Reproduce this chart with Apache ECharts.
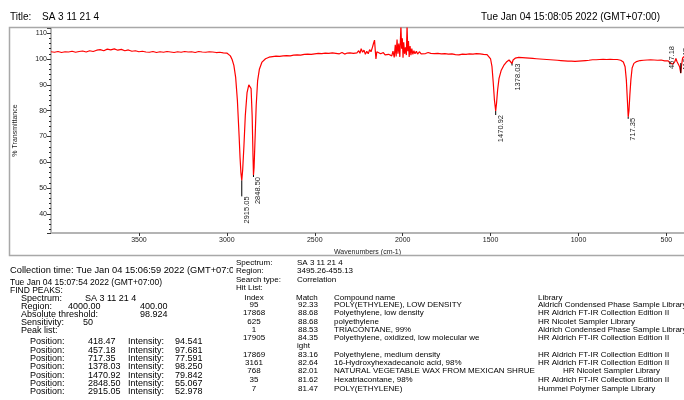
<!DOCTYPE html>
<html>
<head>
<meta charset="utf-8">
<script src="https://cdn.jsdelivr.net/npm/echarts@6/dist/echarts.min.js"></script>
<style>
  html, body { margin: 0; padding: 0; background: #fff; }
  #chart { width: 684px; height: 400px; }
</style>
</head>
<body>
<div id="chart"></div>
<script>
// spectrum (cm-1 / %T)
var wavenumbers = [
  4000, 3980, 3960, 3940, 3920, 3900, 3880, 3860, 3840, 3820, 3800, 3780, 3760, 3740, 3720, 3700,
  3680, 3660, 3640, 3620, 3600, 3580, 3560, 3540, 3520, 3500, 3480, 3460, 3440, 3420, 3400, 3380,
  3360, 3340, 3320, 3300, 3280, 3260, 3240, 3220, 3200, 3180, 3160, 3140, 3120, 3100, 3080, 3060,
  3040, 3020, 3000, 2990, 2980, 2970, 2960, 2950, 2940, 2930, 2925, 2920, 2915.05, 2910, 2903, 2895,
  2885, 2875, 2868, 2862, 2856, 2851, 2848.5, 2845, 2840, 2833, 2825, 2815, 2800, 2780, 2760, 2740,
  2720, 2700, 2680, 2660, 2640, 2620, 2600, 2580, 2560, 2540, 2520, 2500, 2480, 2460, 2440, 2420,
  2400, 2380, 2360, 2345, 2330, 2315, 2300, 2280, 2260, 2250, 2243, 2236, 2228, 2220, 2212, 2204,
  2196, 2188, 2180, 2172, 2166, 2160, 2156, 2152, 2147, 2140, 2125, 2110, 2100, 2090, 2080, 2070,
  2062, 2055, 2048, 2042, 2037, 2032, 2027, 2022, 2016, 2010, 2006, 2002, 1998, 1994, 1989, 1984,
  1979, 1975, 1971, 1967, 1963, 1958, 1953, 1948, 1942, 1936, 1930, 1922, 1915, 1905, 1895, 1885,
  1870, 1855, 1840, 1820, 1800, 1780, 1760, 1740, 1720, 1700, 1680, 1660, 1640, 1620, 1600, 1580,
  1560, 1540, 1520, 1510, 1500, 1492, 1485, 1478, 1470.92, 1466, 1460, 1452, 1440, 1425, 1410, 1395,
  1385, 1378.03, 1372, 1360, 1340, 1320, 1300, 1280, 1260, 1240, 1220, 1200, 1180, 1160, 1140, 1120,
  1100, 1080, 1060, 1040, 1020, 1000, 980, 960, 940, 920, 900, 880, 860, 840, 820, 800,
  780, 760, 745, 735, 728, 722, 717.35, 713, 708, 702, 695, 685, 670, 650, 630, 610,
  590, 570, 550, 530, 510, 500, 490, 480, 470, 463, 457.18, 452, 446, 440, 432, 425,
  418.47, 414, 408, 400
];
var transmittance = [
  102.8, 102.6, 102.9, 102.5, 102.8, 102.7, 103.0, 102.6, 102.9, 103.1, 102.7, 103.2, 102.9, 103.4, 103.6, 103.2,
  103.8, 103.5, 103.9, 103.4, 103.7, 103.2, 103.5, 103.0, 103.2, 102.8, 103.0, 102.7, 102.6, 102.9, 102.5, 102.8,
  102.6, 102.9, 102.7, 102.5, 102.8, 102.6, 102.9, 102.7, 102.8, 102.5, 102.9, 102.7, 102.6, 102.8, 102.7, 102.5,
  102.6, 102.4, 102.3, 102.0, 101.2, 99.8, 97.5, 93.0, 84.0, 70.0, 62.0, 56.0, 52.978, 57.0, 66.0, 78.0,
  87.0, 90.0, 90.4, 88.5, 78.0, 62.0, 55.067, 58.0, 68.0, 82.0, 91.5, 96.0, 98.8, 100.1, 100.7, 100.9,
  101.1, 101.0, 101.2, 101.3, 101.2, 101.5, 101.6, 101.5, 101.8, 101.9, 101.8, 102.0, 102.2, 102.1, 102.3, 102.2,
  102.4, 102.2, 102.0, 102.5, 101.9, 102.3, 102.4, 102.2, 102.4, 103.2, 102.2, 104.0, 102.6, 103.4, 101.8, 103.0,
  102.0, 103.6, 102.8, 104.5, 106.0, 107.3, 103.5, 100.0, 102.8, 102.4, 102.0, 102.5, 101.6, 102.3, 101.8, 102.2,
  101.2, 103.0, 100.6, 105.5, 101.0, 107.5, 102.0, 106.0, 100.8, 113.0, 104.0, 108.0, 100.5, 106.5, 102.0, 104.5,
  101.5, 113.0, 103.0, 107.0, 100.8, 105.0, 101.5, 104.0, 101.8, 103.2, 102.0, 103.0, 101.9, 102.8, 102.0, 102.6,
  102.1, 102.5, 102.2, 102.1, 102.2, 102.0, 102.1, 101.9, 102.0, 101.7, 101.6, 101.9, 101.8, 102.0, 101.9, 102.1,
  102.0, 101.8, 101.7, 101.2, 100.0, 97.0, 91.0, 84.0, 79.842, 83.0, 88.0, 92.5, 95.5, 97.5, 98.8, 99.6,
  99.4, 98.25, 99.6, 100.3, 100.6, 100.5, 100.4, 100.3, 100.2, 100.1, 100.0, 99.9, 99.8, 99.7, 99.6, 99.5,
  99.4, 99.3, 99.2, 99.2, 99.1, 99.2, 99.3, 99.4, 99.5, 99.7, 99.7, 99.8, 99.9, 99.8, 99.9, 99.8,
  99.8, 99.5, 98.8, 97.0, 92.0, 84.0, 77.591, 80.0, 86.0, 92.0, 96.5, 98.3, 99.0, 99.4, 99.5, 99.6,
  99.7, 99.6, 99.5, 99.6, 99.3, 99.0, 99.3, 98.5, 98.9, 98.0, 97.681, 99.0, 100.2, 99.0, 99.6, 97.0,
  94.541, 97.5, 100.3, 101.0
];

// peak pick results
var peakPositions = [418.47, 457.18, 717.35, 1378.03, 1470.92, 2848.50, 2915.05];
var peakIntensities = [94.541, 97.681, 77.591, 98.250, 79.842, 55.067, 52.978];

// hit list
var hitIndex = ['95', '17868', '625', '1', '17905', '17869', '3161', '768', '35', '7'];
var hitMatch = ['92.33', '88.68', '88.68', '88.53', '84.35', '83.16', '82.64', '82.01', '81.62', '81.47'];
var hitCompound = [
  'POLY(ETHYLENE), LOW DENSITY',
  'Polyethylene, low density',
  'polyethylene',
  'TRIACONTANE, 99%',
  'Polyethylene, oxidized, low molecular we',
  'Polyethylene, medium density',
  '16-Hydroxyhexadecanoic acid, 98%',
  'NATURAL VEGETABLE WAX FROM MEXICAN SHRUE',
  'Hexatriacontane, 98%',
  'POLY(ETHYLENE)'
];
var hitLibrary = [
  'Aldrich Condensed Phase Sample Library',
  'HR Aldrich FT-IR Collection Edition II',
  'HR Nicolet Sampler Library',
  'Aldrich Condensed Phase Sample Library',
  'HR Aldrich FT-IR Collection Edition II',
  'HR Aldrich FT-IR Collection Edition II',
  'HR Aldrich FT-IR Collection Edition II',
  'HR Nicolet Sampler Library',
  'HR Aldrich FT-IR Collection Edition II',
  'Hummel Polymer Sample Library'
];

var FONT = '"Liberation Sans", Arial, sans-serif';

// where each peak label sits relative to its peak (px)
var peakLabelStyle = [
  { dx: 5, dy: -25, line: -10 },
  { dx: -2, dy: -19, line: 0 },
  { dx: 5, dy: 1, line: 2 },
  { dx: 6, dy: 0, line: 2 },
  { dx: 5, dy: 4, line: 4 },
  { dx: 4.5, dy: 2, line: 2 },
  { dx: 5, dy: 16, line: 16 }
];

var chart = echarts.init(document.getElementById('chart'), null, { renderer: 'canvas' });

var spectrum = wavenumbers.map(function (w, i) { return [w, transmittance[i]]; });
var peaks = peakPositions.map(function (p, i) { return [p, peakIntensities[i], i]; });

function txt(x, y, s, size, extra) {
  var o = {
    type: 'text', x: x, y: y, z: 10,
    style: { text: s, fontSize: size || 9, fontFamily: FONT, fill: '#000', verticalAlign: 'middle' }
  };
  if (extra) for (var k in extra) o.style[k] = extra[k];
  return o;
}

var g = [];
// frame
g.push({ type: 'rect', z: 1, shape: { x: 9.5, y: 27.5, width: 700, height: 228 },
  style: { fill: 'none', stroke: '#a8a8a8', lineWidth: 1.5 } });
g.push(txt(10, 17, 'Title:', 10));
g.push(txt(42, 17, 'SA 3 11 21 4', 10));
g.push(txt(660, 17, 'Tue Jan 04 15:08:05 2022 (GMT+07:00)', 10, { align: 'right' }));

// left block
g.push(txt(10, 270, 'Collection time: Tue Jan 04 15:06:59 2022 (GMT+07:00)', 9.3));
g.push({ type: 'rect', z: 11, shape: { x: 233, y: 258, width: 460, height: 142 }, style: { fill: '#fff' } });
g.push(txt(10, 283, 'Tue Jan 04 15:07:54 2022 (GMT+07:00)', 8.5));
g.push(txt(10, 291, 'FIND PEAKS:', 8.5));
g.push(txt(21, 299, 'Spectrum:'));
g.push(txt(85, 299, 'SA 3 11 21 4'));
g.push(txt(21, 307, 'Region:'));
g.push(txt(68, 307, '4000.00'));
g.push(txt(140, 307, '400.00'));
g.push(txt(21, 315, 'Absolute threshold:'));
g.push(txt(140, 315, '98.924'));
g.push(txt(21, 323, 'Sensitivity:'));
g.push(txt(83, 323, '50'));
g.push(txt(21, 331, 'Peak list:'));
peakPositions.forEach(function (p, i) {
  var y = 342 + i * 8.3;
  g.push(txt(30, y, 'Position:'));
  g.push(txt(88, y, p.toFixed(2)));
  g.push(txt(128, y, 'Intensity:'));
  g.push(txt(175, y, peakIntensities[i].toFixed(3)));
});

// right block
function rtxt(x, y, s, extra) { var o = txt(x, y, s, 8, extra); o.z = 12; return o; }
g.push(rtxt(236, 263, 'Spectrum:'));
g.push(rtxt(297, 263, 'SA 3 11 21 4'));
g.push(rtxt(236, 271, 'Region:'));
g.push(rtxt(297, 271, '3495.26-455.13'));
g.push(rtxt(236, 280, 'Search type:'));
g.push(rtxt(297, 280, 'Correlation'));
g.push(rtxt(236, 288, 'Hit List:'));
g.push(rtxt(254, 298, 'Index', { align: 'center' }));
g.push(rtxt(296, 298, 'Match'));
g.push(rtxt(334, 298, 'Compound name'));
g.push(rtxt(538, 298, 'Library'));
var rowY = [305, 313, 322, 330, 338, 355, 363, 371, 380, 389];
hitIndex.forEach(function (h, i) {
  var y = rowY[i];
  g.push(rtxt(254, y, h, { align: 'center' }));
  g.push(rtxt(298, y, hitMatch[i]));
  g.push(rtxt(334, y, hitCompound[i]));
  g.push(rtxt(i === 7 ? 563 : 538, y, hitLibrary[i]));
});
g.push(rtxt(297, 346, 'ight'));

chart.setOption({
  animation: false,
  grid: { left: 51, right: 0, top: 28, bottom: 167, containLabel: false },
  xAxis: {
    type: 'value', inverse: true, min: 400, max: 4000, splitNumber: 7,
    name: 'Wavenumbers (cm-1)', nameLocation: 'middle', nameGap: 16,
    nameTextStyle: { fontSize: 7, fontFamily: FONT, color: '#222' },
    axisLine: { lineStyle: { color: '#b4b4b4', width: 2 } },
    axisTick: { show: true, length: 3, lineStyle: { color: '#333' } },
    axisLabel: { fontSize: 7, fontFamily: FONT, color: '#222', margin: 4, showMinLabel: false, showMaxLabel: false,
      formatter: function (v) { return String(v); } },
    splitLine: { show: false }
  },
  yAxis: {
    type: 'value', min: 32.6, max: 112, splitNumber: 8,
    name: '% Transmittance', nameLocation: 'middle', nameGap: 32, nameRotate: 90,
    nameTextStyle: { fontSize: 7, fontFamily: FONT, color: '#222' },
    axisLine: { show: true, lineStyle: { color: '#a0a0a0', width: 1.5 } },
    axisTick: { show: true, length: 4, lineStyle: { color: '#333' } },
    minorTick: { show: true, splitNumber: 5, length: 2, lineStyle: { color: '#222' } },
    axisLabel: { fontSize: 7, fontFamily: FONT, color: '#222', margin: 4, showMinLabel: false, showMaxLabel: false },
    splitLine: { show: false }
  },
  series: [
    {
      type: 'line', data: spectrum, showSymbol: false, symbol: 'none', clip: true,
      lineStyle: { color: '#ff0000', width: 1.2 }
    },
    {
      type: 'custom', data: peaks, z: 5, clip: false,
      renderItem: function (params, api) {
        var pt = api.coord([api.value(0), api.value(1)]);
        var s = peakLabelStyle[api.value(2)];
        return {
          type: 'group',
          children: [
            { type: 'line', shape: { x1: pt[0], y1: pt[1], x2: pt[0], y2: pt[1] + s.line },
              style: { stroke: '#000', lineWidth: 1 } },
            { type: 'text', x: pt[0] + s.dx, y: pt[1] + s.dy, rotation: Math.PI / 2,
              style: { text: api.value(0).toFixed(2), fontSize: 7.5, fontFamily: FONT, fill: '#222',
                align: 'right', verticalAlign: 'middle' } }
          ]
        };
      }
    }
  ],
  graphic: g
});
</script>
</body>
</html>
